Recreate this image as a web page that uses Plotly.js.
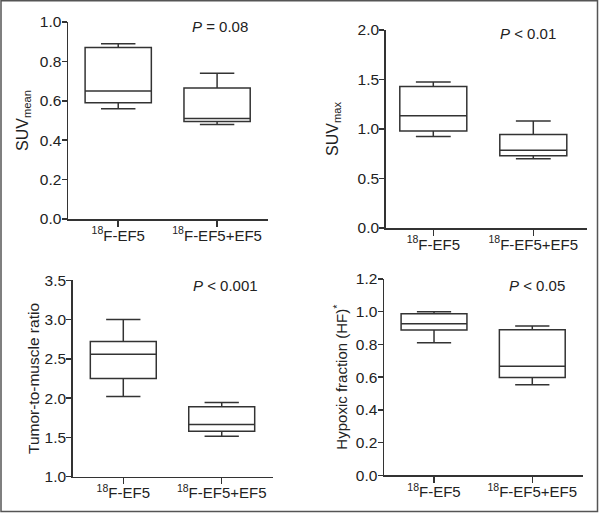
<!DOCTYPE html>
<html>
<head>
<meta charset="utf-8">
<script src="https://cdn.plot.ly/plotly-3.0.1.min.js"></script>
<style>html,body{margin:0;padding:0;background:#fff;}#chart{width:600px;height:513px;}</style>
</head>
<body>
<div id="chart"></div>
<script>
// Categories
var groups = ['<sup>18</sup>F-EF5', '<sup>18</sup>F-EF5+EF5'];

// Panel A: SUVmean
var suvMeanMin = [0.56, 0.48];
var suvMeanQ1 = [0.59, 0.495];
var suvMeanMed = [0.65, 0.51];
var suvMeanQ3 = [0.87, 0.665];
var suvMeanMax = [0.89, 0.74];

// Panel B: SUVmax
var suvMaxMin = [0.925, 0.70];
var suvMaxQ1 = [0.98, 0.73];
var suvMaxMed = [1.135, 0.785];
var suvMaxQ3 = [1.43, 0.945];
var suvMaxMax = [1.475, 1.08];

// Panel C: Tumor-to-muscle ratio
var tmrMin = [2.02, 1.515];
var tmrQ1 = [2.25, 1.58];
var tmrMed = [2.56, 1.665];
var tmrQ3 = [2.72, 1.89];
var tmrMax = [3.0, 1.945];

// Panel D: Hypoxic fraction
var hfMin = [0.81, 0.553];
var hfQ1 = [0.888, 0.598];
var hfMed = [0.927, 0.666];
var hfQ3 = [0.988, 0.89];
var hfMax = [1.0, 0.913];

var pLabels = ['<i>P</i> = 0.08', '<i>P</i> &lt; 0.01', '<i>P</i> &lt; 0.001', '<i>P</i> &lt; 0.05'];
var yTitles = ['SUV<sub>mean</sub>', 'SUV<sub>max</sub>', 'Tumor-to-muscle ratio', 'Hypoxic fraction (HF)<sup>*</sup>'];

var W = 600, H = 513;
function px(x){return x/W;}
function py(y){return (H-y)/H;}

var ink = '#333333';
var font = 'Arial, "Liberation Sans", sans-serif';

function boxTrace(xa, ya, mn, q1, md, q3, mx){
  return {type:'box', x: groups, q1:q1, median:md, q3:q3, lowerfence:mn, upperfence:mx,
    xaxis:xa, yaxis:ya, boxpoints:false, width:0.67, whiskerwidth:0.52,
    fillcolor:'#ffffff', line:{color:ink, width:1.5}, showlegend:false, hoverinfo:'skip'};
}

var data = [
  boxTrace('x','y', suvMeanMin, suvMeanQ1, suvMeanMed, suvMeanQ3, suvMeanMax),
  boxTrace('x2','y2', suvMaxMin, suvMaxQ1, suvMaxMed, suvMaxQ3, suvMaxMax),
  boxTrace('x3','y3', tmrMin, tmrQ1, tmrMed, tmrQ3, tmrMax),
  boxTrace('x4','y4', hfMin, hfQ1, hfMed, hfQ3, hfMax)
];

function xax(d0, d1, anchor, r){
  return {domain:[px(d0), px(d1)], anchor:anchor, type:'category', categoryarray:groups,
    range:r, showline:true, linecolor:ink, linewidth:1.5, ticks:'outside', ticklen:6,
    tickwidth:1.5, tickcolor:ink, showgrid:false, zeroline:false, fixedrange:true,
    ticklabelstandoff:-4,
    tickfont:{family:font, size:15, color:'#222'}};
}
function yax(top, bottom, anchor, r, dt, title, standoff, tsize){
  return {domain:[py(bottom), py(top)], anchor:anchor, range:r, dtick:dt, tick0:0,
    tickformat:'.1f', showline:true, linecolor:ink, linewidth:1.5, ticks:'outside',
    ticklen:5, tickwidth:1.5, tickcolor:ink, showgrid:false, zeroline:false, fixedrange:true,
    ticklabelstandoff:-3,
    tickfont:{family:font, size:15.5, color:'#222'},
    title:{text:title, standoff:standoff, font:{family:font, size:tsize, color:'#222'}}};
}

var layout = {
  width:W, height:H, margin:{l:0, r:0, t:0, b:0},
  paper_bgcolor:'#ffffff', plot_bgcolor:'#ffffff', showlegend:false,
  xaxis: xax(68, 268.3, 'y', [-0.508, 1.518]),
  yaxis: yax(22, 219, 'x', [0, 1.0], 0.2, yTitles[0], 7, 16),
  xaxis2: xax(385.7, 587, 'y2', [-0.476, 1.537]),
  yaxis2: yax(30, 228, 'x2', [0, 2.0], 0.5, yTitles[1], 15, 16),
  xaxis3: xax(72.7, 272.7, 'y3', [-0.514, 1.518]),
  yaxis3: yax(280.3, 476.7, 'x3', [1.0, 3.5], 0.5, yTitles[2], 1, 15.5),
  xaxis4: xax(384, 582.7, 'y4', [-0.509, 1.513]),
  yaxis4: yax(279, 475.3, 'x4', [0, 1.2], 0.2, yTitles[3], 4, 15),
  annotations: [
    {text:pLabels[0], x:px(220), y:py(26)},
    {text:pLabels[1], x:px(528), y:py(33)},
    {text:pLabels[2], x:px(225), y:py(285)},
    {text:pLabels[3], x:px(537), y:py(285)}
  ].map(function(a){ a.xref='paper'; a.yref='paper'; a.showarrow=false; a.xanchor='center'; a.yanchor='middle';
    a.font={family:font, size:15, color:'#222'}; return a; }),
  shapes: [
    {type:'rect', xref:'paper', yref:'paper', x0:px(1), x1:px(597.5), y0:py(511.5), y1:py(0.8),
     line:{color:'#555555', width:1.5}, fillcolor:'rgba(0,0,0,0)'}
  ]
};

Plotly.newPlot('chart', data, layout, {displayModeBar:false, staticPlot:true});
</script>
</body>
</html>
